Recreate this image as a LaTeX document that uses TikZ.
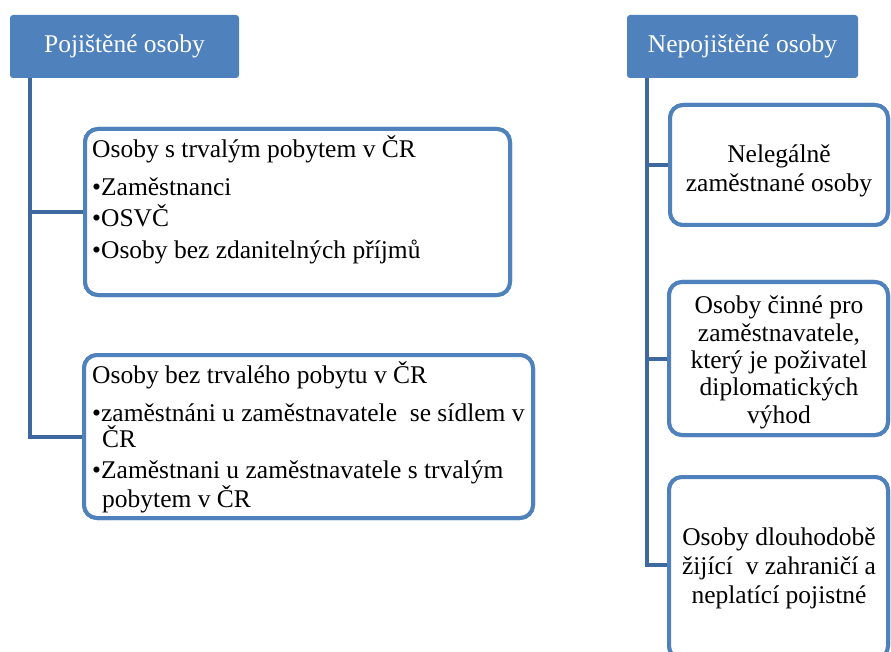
\documentclass[tikz,border=0pt]{standalone}
\usepackage{fontspec}
\setmainfont{Liberation Serif}
\newfontfamily\libser{Liberation Serif}
\definecolor{hdr}{RGB}{79,129,189}
\definecolor{bord}{RGB}{79,129,189}
\definecolor{connc}{RGB}{62,104,158}
\begin{document}
\begin{tikzpicture}[x=1pt,y=-1pt,
  hdrbox/.style={fill=hdr, draw=none, rounded corners=3pt, text=white,
    font=\libser\fontsize{25.5}{30}\selectfont, anchor=north west, inner sep=0pt, outer sep=0pt},
  itembox/.style={draw=bord, line width=4pt, fill=white, rounded corners=13pt,
    anchor=north west, inner sep=0pt, outer sep=0pt},
  lt/.style={anchor=base west, inner sep=0pt, font=\libser\fontsize{25.5}{30}\selectfont},
  ct/.style={anchor=base, inner sep=0pt, font=\libser\fontsize{25.5}{30}\selectfont},
  connline/.style={draw=connc, line width=4pt}]
\path[use as bounding box] (0,0) rectangle (891,652);
\clip (0,0) rectangle (891,652);

% headers
\node[hdrbox, minimum width=229pt, minimum height=63pt] (h1) at (10,15) {Pojištěné osoby};
\node[hdrbox, minimum width=231pt, minimum height=63pt] (h2) at (627,15) {Nepojištěné osoby};

\coordinate (lx) at (30,0);
\coordinate (rx) at (647,0);

% boxes (geometry, used by the connectors)
\node[itembox, minimum width=425pt, minimum height=166pt] (b1) at (85,129) {};
\node[itembox, minimum width=449pt, minimum height=163pt] (b2) at (84,355) {};
\node[itembox, minimum width=218pt, minimum height=120pt] (r1) at (670,105) {};
\node[itembox, minimum width=219pt, minimum height=153pt] (r2) at (669,282) {};
\node[itembox, minimum width=219pt, minimum height=182pt] (r3) at (669,477) {};

% connectors
\draw[connline] (h1.south -| lx) |- (b2.west);
\draw[connline] (lx |- b1.west) -- (b1.west);
\draw[connline] (h2.south -| rx) |- (rx |- 0,565) -- (r3.west |- 0,565);
\draw[connline] (rx |- r1.west) -- (r1.west);
\draw[connline] (rx |- r2.west) -- (r2.west);

% boxes again, on top of the connector ends
\node[itembox, minimum width=425pt, minimum height=166pt] (b1f) at (85,129) {};
\node[itembox, minimum width=449pt, minimum height=163pt] (b2f) at (84,355) {};
\node[itembox, minimum width=218pt, minimum height=120pt] (r1f) at (670,105) {};
\node[itembox, minimum width=219pt, minimum height=153pt] (r2f) at (669,282) {};
\node[itembox, minimum width=219pt, minimum height=182pt] (r3f) at (669,477) {};

% box 1 text
\node[lt] (t1a) at (92,158) {Osoby s trvalým pobytem v ČR};
\node[lt] (t1b) at (92,196) {•Zaměstnanci};
\node[lt] (t1c) at (92,227) {•OSVČ};
\node[lt] (t1d) at (92,259) {•Osoby bez zdanitelných příjmů};

% box 2 text
\node[lt] (t2a) at (92,383) {Osoby bez trvalého pobytu v ČR};
\node[lt] (t2b) at (92,421) {•zaměstnáni u zaměstnavatele\ \ se sídlem v};
\node[lt] (t2c) at (102,447) {ČR};
\node[lt] (t2d) at (92,478) {•Zaměstnani u zaměstnavatele s trvalým};
\node[lt] (t2e) at (102,507) {pobytem v ČR};

% right box texts
\node[ct] (u1a) at (779,163) {Nelegálně};
\node[ct] (u1b) at (779,192) {zaměstnané osoby};

\node[ct] (u2a) at (779,313) {Osoby činné pro};
\node[ct] (u2b) at (779,341) {zaměstnavatele,};
\node[ct] (u2c) at (779,368) {který je poživatel};
\node[ct] (u2d) at (779,395) {diplomatických};
\node[ct] (u2e) at (779,423) {výhod};

\node[ct] (u3a) at (779,545) {Osoby dlouhodobě};
\node[ct] (u3b) at (779,574) {žijící\ \ v zahraničí a};
\node[ct] (u3c) at (779,603) {neplatící pojistné};
\end{tikzpicture}
\end{document}
